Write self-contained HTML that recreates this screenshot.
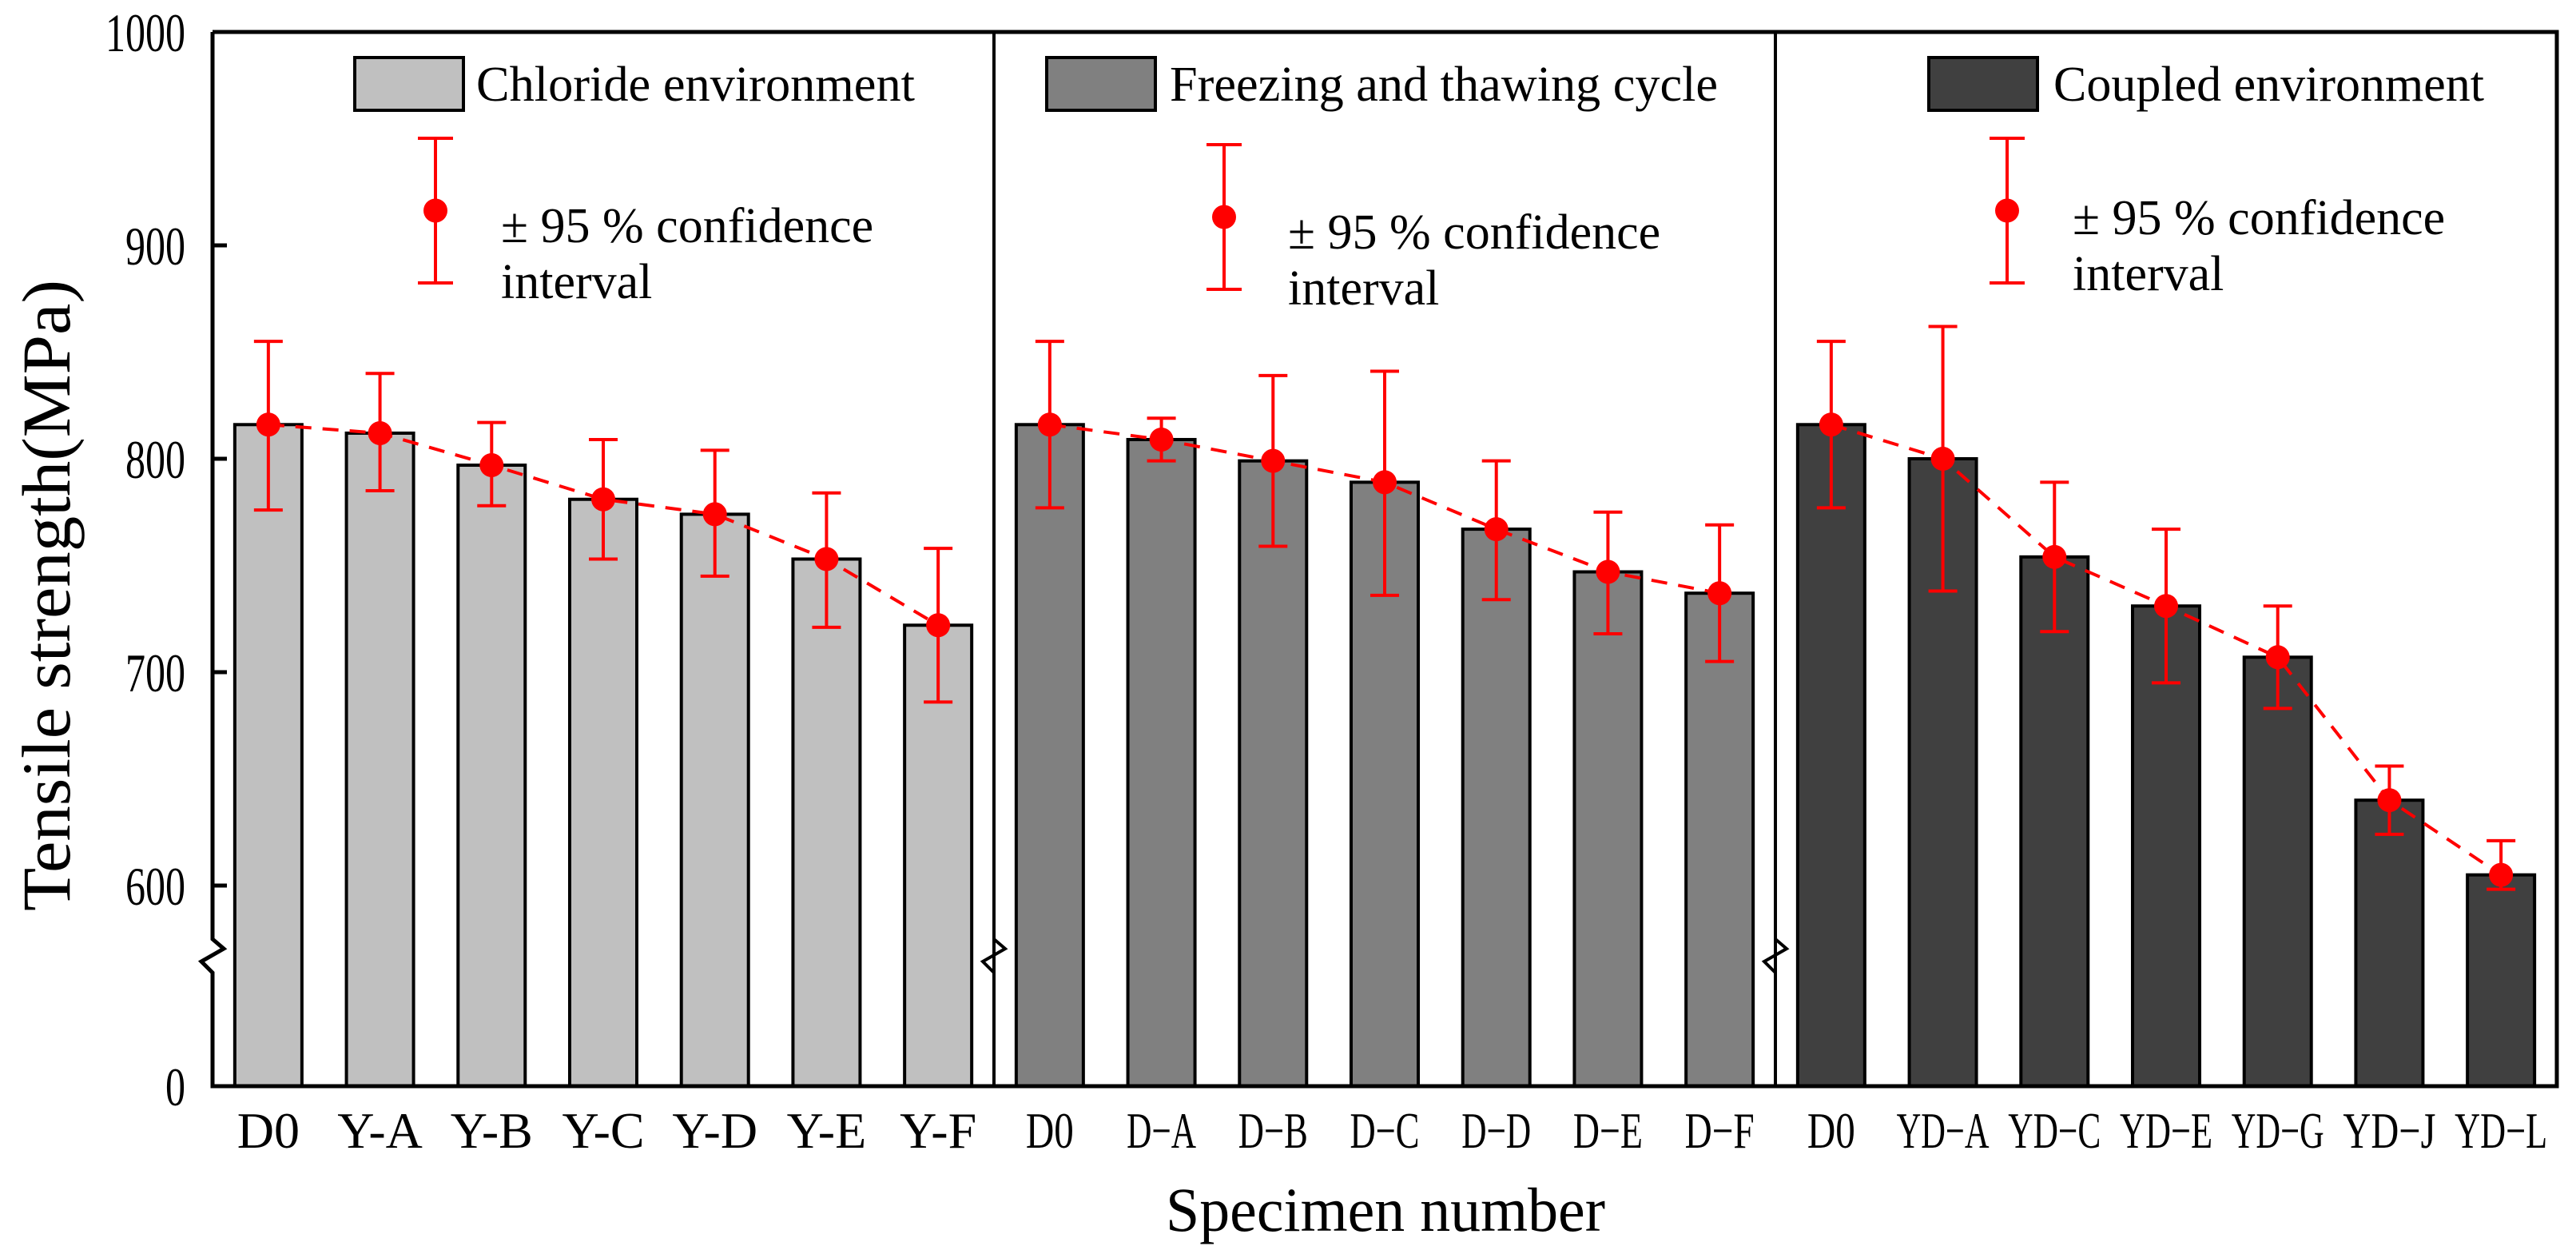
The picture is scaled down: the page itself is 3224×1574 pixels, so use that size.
<!DOCTYPE html>
<html><head><meta charset="utf-8"><style>
html,body{margin:0;padding:0;background:#fff;}
svg{display:block;font-family:"Liberation Serif",serif;}
</style></head><body>
<svg id="chart" width="3224" height="1574" viewBox="0 0 3224 1574" xmlns="http://www.w3.org/2000/svg">
<g id="bars"></g>
<g id="fit"></g>
<g id="axes"></g>
<g id="legend"></g>
<text x="1734" y="1540" font-size="78" text-anchor="middle" textLength="550" lengthAdjust="spacingAndGlyphs">Specimen number</text>
<text transform="translate(58,745) rotate(-90)" font-size="86" text-anchor="middle" dominant-baseline="central" textLength="790" lengthAdjust="spacingAndGlyphs">Tensile strength(MPa)</text>
</svg>
<script>
const groupNames = ["Chloride environment","Freezing and thawing cycle","Coupled environment"];
const groupColors = ["#c0c0c0","#808080","#404040"];
const cats1 = ["D0","Y-A","Y-B","Y-C","Y-D","Y-E","Y-F"];
const cats2 = ["D0","D\u2212A","D\u2212B","D\u2212C","D\u2212D","D\u2212E","D\u2212F"];
const cats3 = ["D0","YD\u2212A","YD\u2212C","YD\u2212E","YD\u2212G","YD\u2212J","YD\u2212L"];
const vals1 = [816,812,797,781,774,753,722];
const vals2 = [816,809,799,789,767,747,737];
const vals3 = [816,800,754,731,707,640,605];
const lo1 = [776,785,778,753,745,721,686];
const hi1 = [855,840,817,809,804,784,758];
const lo2 = [777,799,759,736,734,718,705];
const hi2 = [855,819,839,841,799,775,769];
const lo3 = [777,738,719,695,683,624,589];
const hi3 = [855,862,789,767,731,656,621];
const yTicks = [0,600,700,800,900,1000];

const NS="http://www.w3.org/2000/svg";
const X0=266,X1=3200,TOP=40,BOT=1359,GW=(X1-X0)/3,STEP=GW/7,BW=84;
const Y600=1108, BRK=1195;
function yScale(v){ if(v>=600) return TOP+(1000-v)*(Y600-TOP)/400; return BOT-(v/600)*(BOT-Y600); }
function xCenter(g,i){ return X0+g*GW+(i+0.5)*STEP; }
function mk(tag,attrs,parent){ const e=document.createElementNS(NS,tag); for(const k in attrs) e.setAttribute(k,attrs[k]); parent.appendChild(e); return e; }

const bars=document.getElementById('bars'), fit=document.getElementById('fit'), axes=document.getElementById('axes'), leg=document.getElementById('legend');
const cats=[cats1,cats2,cats3], vals=[vals1,vals2,vals3], los=[lo1,lo2,lo3], his=[hi1,hi2,hi3];

for(let g=0;g<3;g++){
  const pts=[];
  for(let i=0;i<7;i++){
    const cx=xCenter(g,i), y=yScale(vals[g][i]);
    const r=mk('rect',{x:cx-BW/2,y:y,width:BW,height:BOT-y,fill:groupColors[g],stroke:'#000','stroke-width':4},bars);
    
    
    pts.push(cx+','+y);
    const lab=cats[g][i];
    const attrs={x:cx,y:1436,'font-size':64,'text-anchor':'middle'};
    if(g>0){ attrs.textLength=(lab.length===2?60:29*lab.length); attrs.lengthAdjust='spacingAndGlyphs'; }
    const t=mk('text',attrs,axes);
    t.textContent=lab;
    
    
  }
  const pl=mk('polyline',{points:pts.join(' '),fill:'none',stroke:'#ff0000','stroke-width':4,'stroke-dasharray':'20 14'},fit);
  
  
  for(let i=0;i<7;i++){
    const cx=xCenter(g,i), yl=yScale(los[g][i]), yh=yScale(his[g][i]), y=yScale(vals[g][i]);
    const eb=mk('path',{d:`M${cx},${yh}V${yl}M${cx-18},${yh}H${cx+18}M${cx-18},${yl}H${cx+18}`,stroke:'#ff0000','stroke-width':4,fill:'none'},fit);
    
    
    const c=mk('circle',{cx:cx,cy:y,r:15,fill:'#ff0000'},fit);
    
    
  }
}
mk('path',{d:`M${X0},${TOP}H${X1}V${BOT}H${X0}V${BRK+22}L${X0-14},${BRK+8}L${X0+14},${BRK-8}L${X0},${BRK-20}V${TOP}`,fill:'none',stroke:'#000','stroke-width':5},axes);
mk('line',{x1:X0+GW,y1:TOP,x2:X0+GW,y2:BOT,stroke:'#000','stroke-width':4},axes);
mk('line',{x1:X0+2*GW,y1:TOP,x2:X0+2*GW,y2:BOT,stroke:'#000','stroke-width':4},axes);
[1,2].forEach(k=>{ const x=X0+k*GW; mk('path',{d:`M${x},${BRK+22}L${x-14},${BRK+8}L${x+14},${BRK-8}L${x},${BRK-20}`,fill:'none',stroke:'#000','stroke-width':4},axes); });
yTicks.forEach(v=>{
  const y=yScale(v);
  if(v>0 && v<1000) mk('line',{x1:X0,y1:y,x2:X0+18,y2:y,stroke:'#000','stroke-width':5},axes);
  const s=String(v);
  const t=mk('text',{x:232,y:y+24,'font-size':68,'text-anchor':'end',textLength:25*s.length,lengthAdjust:'spacingAndGlyphs'},axes);
  t.textContent=s;
  
  
});
const legBox=[444,1310,2414], legTextX=[596,1464,2570], legTextW=[549,686,539];
const ebX=[545,1532,2512], ebTop=[173,181,173], ebTxtX=[627,1612,2594], ebTxtY=[303,311,293];
for(let g=0;g<3;g++){
  const b=mk('rect',{x:legBox[g],y:72,width:136,height:66,fill:groupColors[g],stroke:'#000','stroke-width':4},leg);
  
  
  const t=mk('text',{x:legTextX[g],y:126,'font-size':62,textLength:legTextW[g],lengthAdjust:'spacingAndGlyphs'},leg);
  t.textContent=groupNames[g];
  
  
  const x=ebX[g], t0=ebTop[g], t1=t0+181, m=(t0+t1)/2;
  const e=mk('path',{d:`M${x},${t0}V${t1}M${x-22},${t0}H${x+22}M${x-22},${t1}H${x+22}`,stroke:'#ff0000','stroke-width':4,fill:'none'},leg);
  
  
  const c=mk('circle',{cx:x,cy:m,r:15,fill:'#ff0000'},leg);
  
  
  const t1e=mk('text',{x:ebTxtX[g],y:ebTxtY[g],'font-size':62},leg);
  t1e.textContent='\u00b1 95 % confidence';
  
  
  const t2=mk('text',{x:ebTxtX[g],y:ebTxtY[g]+70,'font-size':62},leg);
  t2.textContent='interval';
  
  
}
</script>
</body></html>
